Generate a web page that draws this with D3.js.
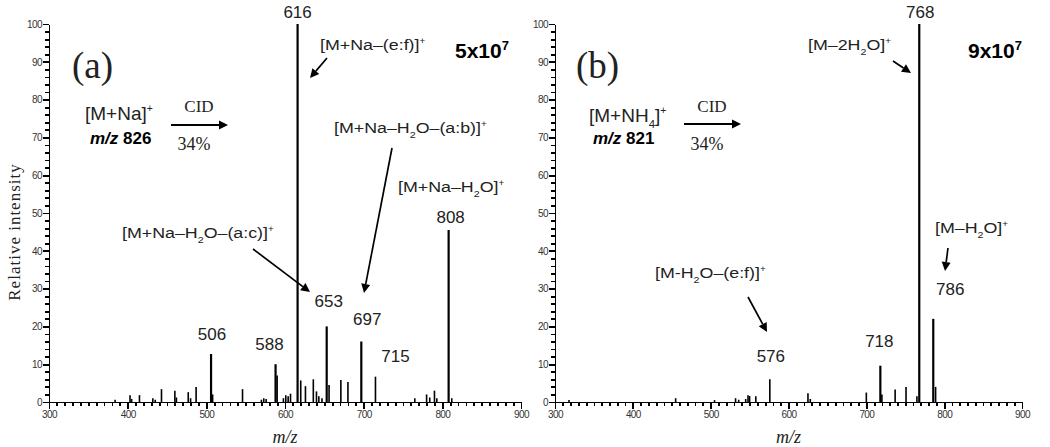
<!DOCTYPE html>
<meta charset="utf-8">
<style>
  body { margin: 0; background: #fff; }
  svg { font-family: "Liberation Sans", Arial, sans-serif; }
  .axis path, .axis line { fill: none; stroke: #000; stroke-width: 1.8px; shape-rendering: crispEdges; }
  .axis text { font-size: 10px; letter-spacing: -0.6px; fill: #333; }
  .peak { stroke: #000; fill: none; }
  .num { font-size: 17px; fill: #222; }
  .serif { font-family: "Liberation Serif", "Times New Roman", serif; fill: #222; }
</style>
<body>
<script src="https://cdn.jsdelivr.net/npm/d3@7"></script>
<script>

  // panel (a): [M+Na]+ m/z 826
  var mzA  = [384, 403, 405, 415, 432, 435, 443, 460, 462, 477, 480, 487, 506, 508, 546, 570, 573, 576, 588, 590, 598, 601, 604, 607, 616, 620, 626, 636, 640, 643, 647, 653, 656, 671, 680, 697, 715, 765, 780, 784, 790, 793, 808, 812];
  var intA = [0.6, 1.8, 0.8, 1.8, 1.0, 0.6, 3.4, 3.0, 1.2, 2.6, 1.0, 4.0, 12.7, 2.0, 3.4, 0.6, 1.0, 0.8, 10.0, 7.0, 1.0, 1.8, 1.5, 2.2, 100, 5.7, 4.2, 6.0, 2.8, 1.5, 1.0, 20.0, 4.5, 5.8, 5.3, 16.0, 6.7, 1.0, 2.0, 1.2, 3.0, 1.0, 45.5, 1.0];

  // panel (b): [M+NH4]+ m/z 821
  var mzB  = [318, 455, 505, 532, 536, 545, 548, 550, 558, 576, 625, 628, 700, 718, 720, 737, 751, 765, 768, 786, 789];
  var intB = [0.5, 1.0, 0.5, 1.0, 0.6, 0.8, 1.8, 1.6, 1.5, 6.0, 2.3, 0.8, 2.5, 9.6, 2.0, 3.3, 4.0, 1.5, 100, 22.0, 4.0];

  var xTicks = [300, 400, 500, 600, 700, 800, 900];
  var yTicks = [0, 10, 20, 30, 40, 50, 60, 70, 80, 90, 100];

  var svg = d3.select("body").append("svg")
    .attr("width", 1050)
    .attr("height", 447);

  var y = d3.scaleLinear().domain([0, 100]).range([402, 24]);

  function panel(x0, x1, mz, inten) {
    var x = d3.scaleLinear().domain([300, 900]).range([x0, x1]);
    var g = svg.append("g");

    g.selectAll(".peak")
      .data(mz)
      .enter().append("line")
      .attr("class", "peak")
      .attr("x1", function(d) { return x(d); })
      .attr("x2", function(d) { return x(d); })
      .attr("y1", y(0))
      .attr("y2", function(d, i) { return y(inten[i]); })
      .attr("stroke-width", function(d, i) { return inten[i] > 8 ? 2.2 : 1.6; });

    g.append("text").attr("class", "serif")
      .attr("x", (x0 + x1) / 2).attr("y", 443)
      .attr("text-anchor", "middle")
      .style("font-style", "italic").style("font-size", "18px")
      .text("m/z");

    return {g: g, x: x, x0: x0};
  }

  // axes go on top of everything else
  function axes(p) {
    var a = svg.append("g");
    a.append("g").attr("class", "axis")
      .attr("transform", "translate(0,402)")
      .call(d3.axisBottom(p.x).tickValues(d3.range(300, 901, 10)).tickSize(4).tickSizeOuter(0).tickFormat(""));
    a.append("g").attr("class", "axis")
      .attr("transform", "translate(" + p.x0 + ",0)")
      .call(d3.axisLeft(y).tickValues(d3.range(0, 101, 2)).tickSize(4).tickSizeOuter(0).tickFormat(""));
    a.append("g").attr("class", "axis")
      .attr("transform", "translate(0,402)")
      .call(d3.axisBottom(p.x).tickValues(xTicks).tickSize(7).tickSizeOuter(0).tickPadding(2));
    a.append("g").attr("class", "axis")
      .attr("transform", "translate(" + p.x0 + ",0)")
      .call(d3.axisLeft(y).tickValues(yTicks).tickSize(6).tickSizeOuter(0).tickPadding(1));
  }

  var A = panel(49, 521, mzA, intA);
  var B = panel(555, 1022, mzB, intB);

  // arrow with a filled triangular head
  function arrow(x1, y1, x2, y2, w) {
    w = w || 1.7;
    var ang = Math.atan2(y2 - y1, x2 - x1), L = 9, H = 4.5;
    var bx = x2 - L * Math.cos(ang), by = y2 - L * Math.sin(ang);
    svg.append("line")
      .attr("x1", x1).attr("y1", y1).attr("x2", bx).attr("y2", by)
      .attr("stroke", "#000").attr("stroke-width", w);
    var px = -Math.sin(ang) * H, py = Math.cos(ang) * H;
    svg.append("path")
      .attr("d", "M" + x2 + "," + y2 + "L" + (bx + px) + "," + (by + py) + "L" + (bx - px) + "," + (by - py) + "Z")
      .attr("fill", "#000");
  }

  function peakLabel(p, mz, dx, yy) {
    svg.append("text").attr("class", "num")
      .attr("x", p.x(mz) + dx).attr("y", yy)
      .attr("text-anchor", "middle")
      .text(mz);
  }

  // ion label; parts: [text, "sub"|"sup"|null]
  function ion(x, yy, parts, size, sx) {
    var t = svg.append("text")
      .attr("transform", "translate(" + x + "," + yy + ") scale(" + (sx || 1) + ",1)")
      .style("font-size", size + "px").style("fill", "#222");
    var shift = 0;
    parts.forEach(function(p) {
      var dy = 0, fs = null;
      if (p[1] === "sub") { dy = size * 0.3 - shift; shift = size * 0.3; fs = size * 0.6; }
      else if (p[1] === "sup") { dy = -size * 0.4 - shift; shift = -size * 0.4; fs = size * 0.55; }
      else { dy = -shift; shift = 0; }
      var s = t.append("tspan").attr("dy", dy).text(p[0]);
      if (fs) s.style("font-size", fs + "px");
    });
    return t;
  }

  // Y axis title
  svg.append("text").attr("class", "serif")
    .attr("transform", "translate(20,232) rotate(-90)")
    .attr("text-anchor", "middle")
    .style("font-size", "17px").style("letter-spacing", "1px")
    .text("Relative intensity");

  // ----- panel (a)
  peakLabel(A, 616, 0, 18);
  peakLabel(A, 506, 1, 340);
  peakLabel(A, 588, -6, 350);
  peakLabel(A, 653, 2, 307);
  peakLabel(A, 697, 6, 325);
  peakLabel(A, 715, 20, 362);
  peakLabel(A, 808, 2, 223);

  svg.append("text").attr("class", "serif")
    .attr("x", 72).attr("y", 78).style("font-size", "37px").text("(a)");

  ion(320, 50, [["[M+Na\u2013(e:f)]"], ["+", "sup"]], 15.5, 1.15);
  arrow(327, 58, 310, 78);

  svg.append("text").attr("x", 455).attr("y", 58)
    .style("font-size", "21px").style("font-weight", "bold")
    .html("5x10<tspan dy='-8' font-size='13px'>7</tspan>");

  ion(85, 120, [["[M+Na]"], ["+", "sup"]], 19);
  svg.append("text").attr("x", 90).attr("y", 144)
    .style("font-size", "17px").style("font-weight", "bold")
    .html("<tspan font-style='italic'>m/z</tspan> 826");
  svg.append("text").attr("class", "serif").attr("x", 199).attr("y", 112)
    .attr("text-anchor", "middle").style("font-size", "17px").text("CID");
  svg.append("text").attr("class", "serif").attr("x", 194).attr("y", 150)
    .attr("text-anchor", "middle").style("font-size", "18px").text("34%");
  arrow(171, 125, 228, 125, 2);

  ion(334, 133, [["[M+Na\u2013H"], ["2", "sub"], ["O\u2013(a:b)]"], ["+", "sup"]], 15.5, 1.15);
  arrow(392, 148, 364, 293);

  ion(398, 192, [["[M+Na\u2013H"], ["2", "sub"], ["O]"], ["+", "sup"]], 15.5, 1.15);

  ion(122, 238, [["[M+Na\u2013H"], ["2", "sub"], ["O\u2013(a:c)]"], ["+", "sup"]], 15.5, 1.15);
  arrow(253, 249, 310, 292);

  // ----- panel (b)
  peakLabel(B, 768, 1, 18);
  peakLabel(B, 786, 17, 295);
  peakLabel(B, 576, 1, 362);
  peakLabel(B, 718, -1, 347);

  svg.append("text").attr("class", "serif")
    .attr("x", 576).attr("y", 78).style("font-size", "37px").text("(b)");

  ion(808, 50, [["[M\u20132H"], ["2", "sub"], ["O]"], ["+", "sup"]], 15.5, 1.15);
  arrow(893, 61, 911, 73);

  svg.append("text").attr("x", 968).attr("y", 58)
    .style("font-size", "21px").style("font-weight", "bold")
    .html("9x10<tspan dy='-8' font-size='13px'>7</tspan>");

  ion(589, 122, [["[M+NH"], ["4", "sub"], ["]"], ["+", "sup"]], 19);
  svg.append("text").attr("x", 593).attr("y", 144)
    .style("font-size", "17px").style("font-weight", "bold")
    .html("<tspan font-style='italic'>m/z</tspan> 821");
  svg.append("text").attr("class", "serif").attr("x", 712).attr("y", 112)
    .attr("text-anchor", "middle").style("font-size", "17px").text("CID");
  svg.append("text").attr("class", "serif").attr("x", 707).attr("y", 150)
    .attr("text-anchor", "middle").style("font-size", "18px").text("34%");
  arrow(684, 124, 741, 124, 2);

  ion(935, 233, [["[M\u2013H"], ["2", "sub"], ["O]"], ["+", "sup"]], 15.5, 1.15);
  arrow(948, 248, 945, 271);

  ion(655, 278, [["[M-H"], ["2", "sub"], ["O\u2013(e:f)]"], ["+", "sup"]], 15.5, 1.15);
  arrow(748, 297, 767, 332);

  axes(A);
  axes(B);

</script>
